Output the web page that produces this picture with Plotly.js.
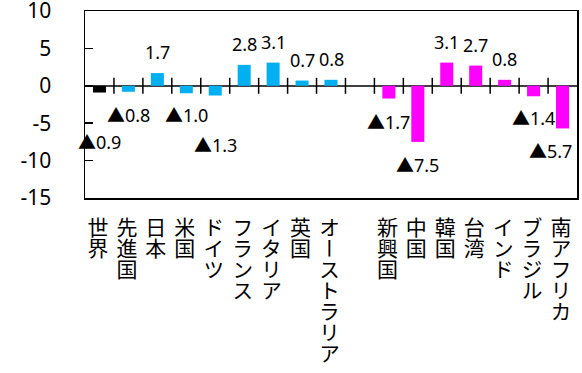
<!DOCTYPE html>
<html>
<head>
<meta charset="utf-8">
<script src="https://cdn.plot.ly/plotly-3.0.1.min.js"></script>
<style>
  html, body { margin: 0; padding: 0; background: #fff; }
  #chart { width: 582px; height: 373px; }
</style>
</head>
<body>
<div id="chart"></div>
<script>
// ---- data ----
const categories = ['世界','先進国','日本','米国','ドイツ','フランス','イタリア','英国','オーストラリア',' ','新興国','中国','韓国','台湾','インド','ブラジル','南アフリカ'];
const values = [-0.9, -0.8, 1.7, -1.0, -1.3, 2.8, 3.1, 0.7, 0.8, null, -1.7, -7.5, 3.1, 2.7, 0.8, -1.4, -5.7];
const groups = ['world','adv','adv','adv','adv','adv','adv','adv','adv','none','em','em','em','em','em','em','em'];
const yTicks = [-15, -10, -5, 0, 5, 10];

// ---- styles ----
const groupColors = { world: '#000000', adv: '#00B0F0', em: '#FF00FF', none: 'rgba(0,0,0,0)' };
// per-label vertical offsets (px) for the negative-value labels, positive labels sit above bars
const negLabelShift = { '世界': -49, '先進国': -23, '米国': -21.5, 'ドイツ': -49, '新興国': -23, '中国': -23, 'ブラジル': -21.5, '南アフリカ': -23 };
const labelXShift = { '南アフリカ': -12 };
const posLabelShift = 21;

const numFont = 'Noto Sans, Noto Sans CJK JP, sans-serif';
const cjkFont = 'Noto Sans CJK JP, Noto Sans, sans-serif';

const trace = {
  type: 'bar',
  x: categories,
  y: values,
  width: 0.45,
  marker: { color: groups.map(g => groupColors[g]), line: { width: 0 } },
  hoverinfo: 'skip'
};

const annotations = [];
categories.forEach((c, i) => {
  const v = values[i];
  if (v === null || v === undefined) return;
  const neg = v < 0;
  annotations.push({
    x: c, y: v, xref: 'x', yref: 'y',
    text: neg ? '▲' + Math.abs(v).toFixed(1) : v.toFixed(1),
    showarrow: false,
    xanchor: 'center', yanchor: 'middle',
    yshift: neg ? (negLabelShift[c] !== undefined ? negLabelShift[c] : -23) : posLabelShift,
    xshift: labelXShift[c] || 0,
    font: { family: numFont, size: 18, color: '#000' }
  });
});

// boundary tick marks crossing the zero line
const shapes = [];
for (let i = 1; i < categories.length; i++) {
  shapes.push({
    type: 'line', xref: 'x', yref: 'y',
    x0: i - 0.5, x1: i - 0.5,
    ysizemode: 'pixel', yanchor: 0, y0: -8, y1: 8,
    line: { color: '#000', width: 1.5 }
  });
}

const layout = {
  width: 582, height: 373,
  margin: { l: 85, r: 5, t: 11, b: 175 },
  paper_bgcolor: '#fff', plot_bgcolor: '#fff',
  showlegend: false,
  xaxis: {
    type: 'category',
    categoryorder: 'array', categoryarray: categories,
    range: [-0.5, categories.length - 0.5],
    showline: true, mirror: true, linecolor: '#000', linewidth: 1.5,
    showgrid: false, zeroline: false,
    ticks: '',
    tickfont: { family: cjkFont, size: 21, color: '#000' },
    automargin: false,
    fixedrange: true
  },
  yaxis: {
    range: [-15, 10],
    tickvals: yTicks,
    ticktext: yTicks.map(String),
    ticks: 'inside', ticklen: 8, tickwidth: 1.5, tickcolor: '#000',
    showline: true, mirror: true, linecolor: '#000', linewidth: 1.5,
    showgrid: false,
    zeroline: true, zerolinecolor: '#404040', zerolinewidth: 2,
    tickfont: { family: numFont, size: 21, color: '#000' },
    ticklabelstandoff: 28,
    automargin: false,
    fixedrange: true
  },
  annotations: annotations,
  shapes: shapes
};

const gd = document.getElementById('chart');

function finishLabels() {
  // Plotly hides the top y label because its line box touches the page edge; show it again
  gd.querySelectorAll('.ytick text').forEach(t => { t.style.display = ''; });

  // write the category labels vertically, as in the reference
  const svg = gd.querySelector('.main-svg');
  const svgRect = svg.getBoundingClientRect();
  const sz = gd._fullLayout._size;
  const top = sz.t + sz.h + 19;
  gd.querySelectorAll('.xtick text').forEach(t => {
    const r = t.getBoundingClientRect();
    const cx = r.left + r.width / 2 - svgRect.left;
    t.removeAttribute('dy');
    t.setAttribute('x', 0);
    t.setAttribute('y', 0);
    t.setAttribute('text-anchor', 'start');
    t.setAttribute('transform', 'translate(' + cx + ',' + top + ')');
    t.style.writingMode = 'vertical-rl';
    t.style.textOrientation = 'upright';
  });
}

Plotly.newPlot(gd, [trace], layout, { staticPlot: true, displayModeBar: false }).then(finishLabels);
</script>
</body>
</html>
